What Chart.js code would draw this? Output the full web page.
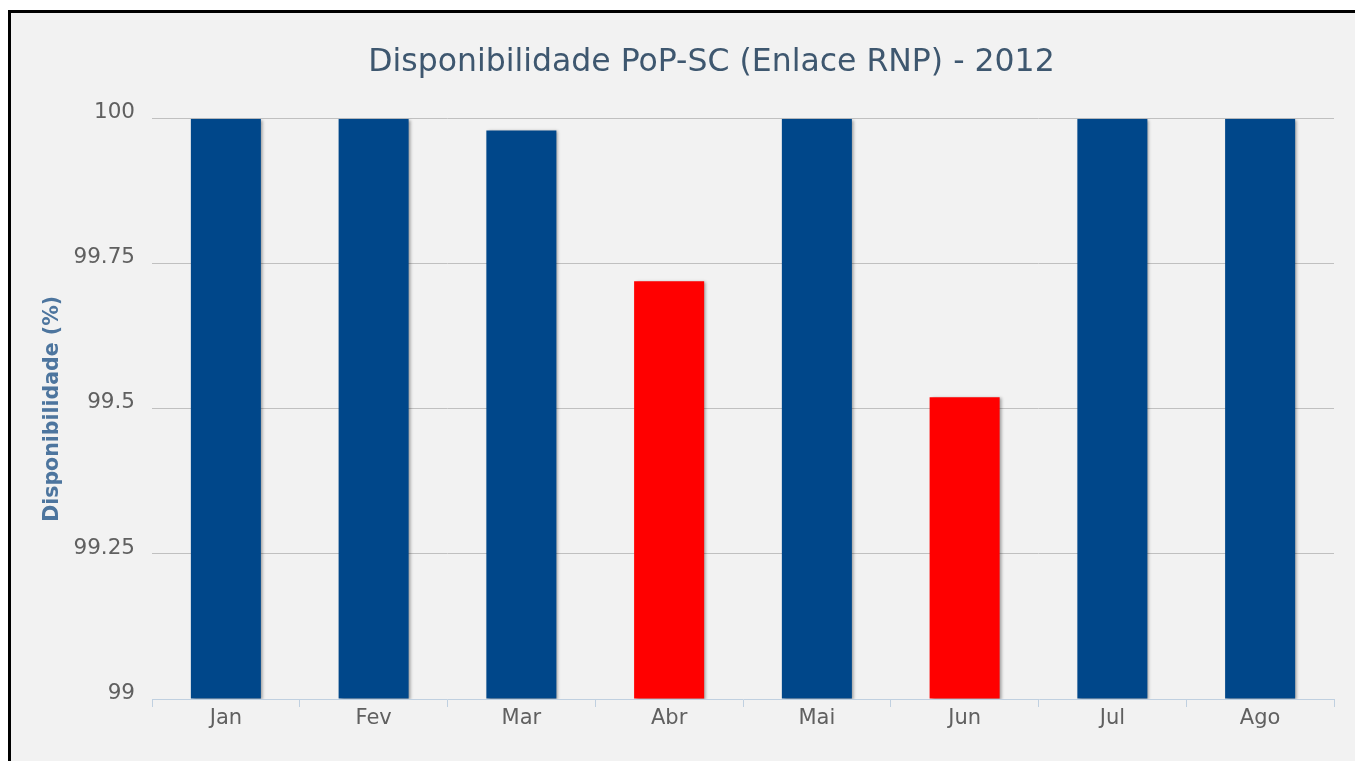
<!DOCTYPE html>
<html>
<head>
<meta charset="utf-8">
<script src="https://cdn.jsdelivr.net/npm/chart.js@4/dist/chart.umd.min.js"></script>
<style>
  html, body { margin: 0; padding: 0; background: #ffffff; overflow: hidden; width: 1355px; height: 761px; }
  .frame { position: absolute; left: 8px; top: 10px; width: 1400px; height: 800px; border: 3px solid #000; background: #f2f2f2; }
  .wrap { position: absolute; left: 0; top: 0; width: 1344px; height: 748px; }
</style>
</head>
<body>
<div class="frame"><div class="wrap"><canvas id="c"></canvas></div></div>
<script>
const categories = ['Jan', 'Fev', 'Mar', 'Abr', 'Mai', 'Jun', 'Jul', 'Ago'];
const availability = [100, 100, 99.98, 99.72, 100, 99.52, 100, 100];
const yTickValues = [99, 99.25, 99.5, 99.75, 100];
const chartTitle = 'Disponibilidade PoP-SC (Enlace RNP) - 2012';
const yAxisTitle = 'Disponibilidade (%)';

const BLUE = '#00478a';
const RED = '#ff0000';
const THRESHOLD = 99.9;
const barColors = availability.map(v => v < THRESHOLD ? RED : BLUE);

const FONT = "'DejaVu Sans', sans-serif";

const shadowPlugin = {
  id: 'barShadow',
  beforeDatasetsDraw(chart) {
    const ctx = chart.ctx;
    ctx.save();
    ctx.shadowColor = 'rgba(0,0,0,0.35)';
    ctx.shadowBlur = 3;
    ctx.shadowOffsetX = 2;
    ctx.shadowOffsetY = 1;
  },
  afterDatasetsDraw(chart) {
    chart.ctx.restore();
  }
};

const titleShift = {
  id: 'titleShift',
  afterLayout(chart) {
    const t = chart.titleBlock;
    if (t) { t.left += 39; t.right += 39; }
  }
};

new Chart(document.getElementById('c'), {
  type: 'bar',
  data: {
    labels: categories,
    datasets: [{
      data: availability,
      backgroundColor: barColors,
      borderWidth: 0,
      categoryPercentage: 1,
      barPercentage: 0.474,
      base: 99
    }]
  },
  plugins: [shadowPlugin, titleShift],
  options: {
    responsive: true,
    maintainAspectRatio: false,
    animation: false,
    layout: { padding: { left: 0, right: 21, top: 0, bottom: 0 } },
    plugins: {
      legend: { display: false },
      tooltip: { enabled: false },
      title: {
        display: true,
        text: chartTitle,
        color: '#3e576f',
        font: { family: FONT, size: 31.5, weight: 'normal', lineHeight: 1.2 },
        padding: { top: 31, bottom: 37 }
      }
    },
    scales: {
      x: {
        afterFit(scale) { scale.height = 62; },
        grid: {
          display: true,
          drawOnChartArea: false,
          drawTicks: true,
          tickLength: 8,
          color: '#c0d0e0',
          offset: true
        },
        border: { display: true, color: '#c0d0e0', width: 1 },
        ticks: {
          color: '#606060',
          padding: -1,
          font: { family: FONT, size: 21 },
          maxRotation: 0
        }
      },
      y: {
        min: 99,
        max: 100,
        afterFit(scale) { scale.width = 141; },
        afterBuildTicks(scale) { scale.ticks = yTickValues.map(v => ({ value: v })); },
        grid: {
          drawTicks: false,
          color: ctx => (ctx.tick && ctx.tick.value === 99) ? 'rgba(0,0,0,0)' : '#c0c0c0',
          lineWidth: 1
        },
        border: { display: false },
        ticks: {
          color: '#606060',
          padding: 17,
          labelOffset: -6,
          font: { family: FONT, size: 21.5 },
          callback: v => String(v)
        },
        title: {
          display: true,
          text: yAxisTitle,
          color: '#4d759e',
          font: { family: FONT, size: 20.5, weight: 'bold' },
          padding: { top: 29, bottom: 0 }
        }
      }
    }
  }
});
</script>
</body>
</html>
